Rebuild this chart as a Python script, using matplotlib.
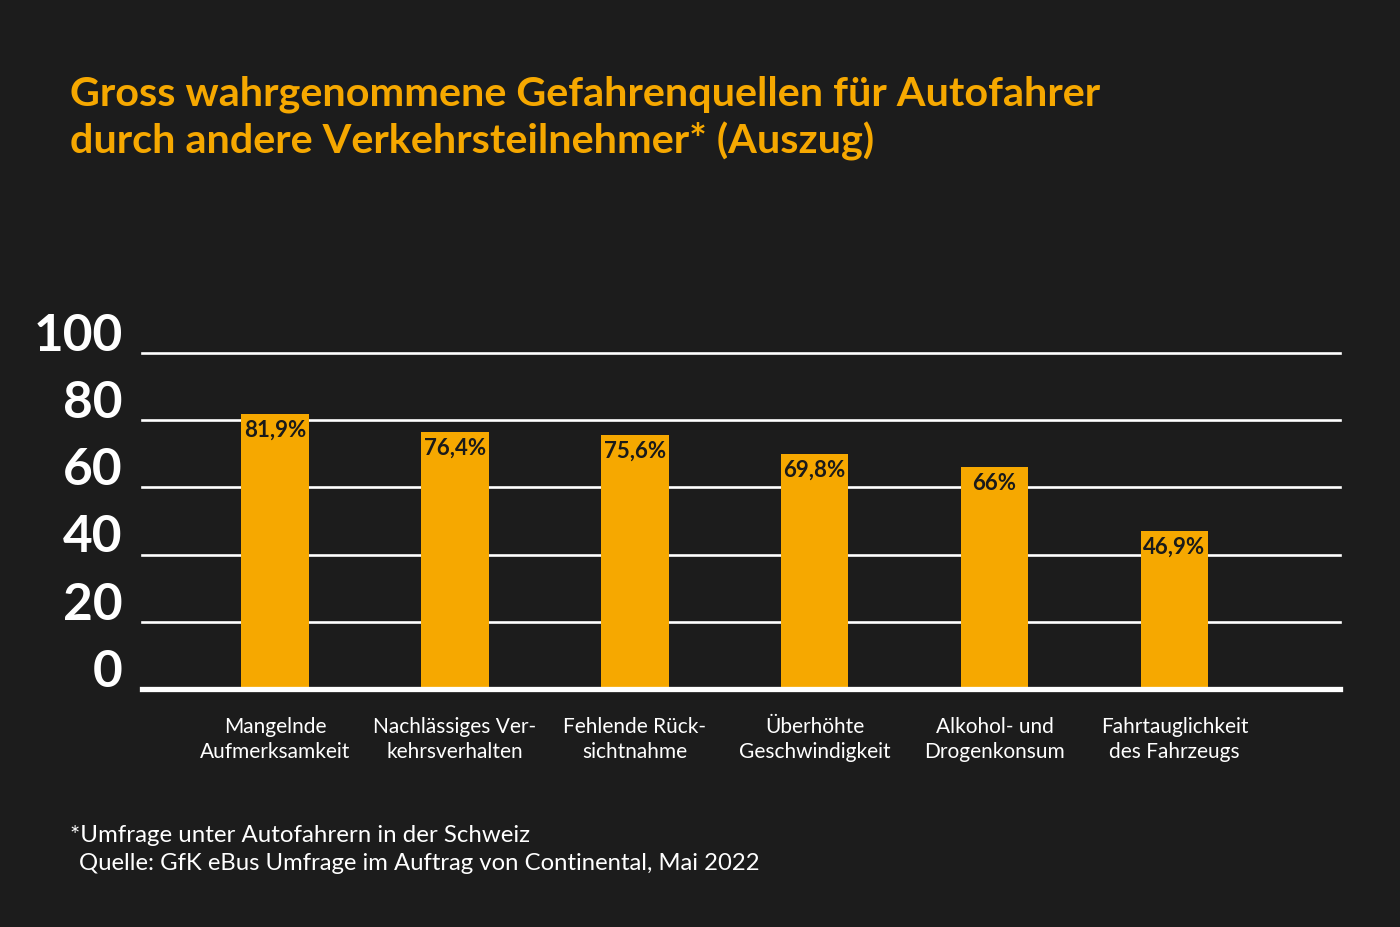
import matplotlib.pyplot as plt
from matplotlib.transforms import offset_copy

# Daten
categories = [
    "Mangelnde\nAufmerksamkeit",
    "Nachlässiges Ver-\nkehrsverhalten",
    "Fehlende Rück-\nsichtnahme",
    "Überhöhte\nGeschwindigkeit",
    "Alkohol- und\nDrogenkonsum",
    "Fahrtauglichkeit\ndes Fahrzeugs",
]
values = [81.9, 76.4, 75.6, 69.8, 66.0, 46.9]
value_labels = ["81,9%", "76,4%", "75,6%", "69,8%", "66%", "46,9%"]
yticks = [0, 20, 40, 60, 80, 100]

title = ("Gross wahrgenommene Gefahrenquellen für Autofahrer\n"
         "durch andere Verkehrsteilnehmer* (Auszug)")
footnote = "*Umfrage unter Autofahrern in der Schweiz"
source = "Quelle: GfK eBus Umfrage im Auftrag von Continental, Mai 2022"

BG = "#1c1c1c"
ORANGE = "#f6a800"
FONT = "Lato"

fig = plt.figure(figsize=(14, 9.27), dpi=100, facecolor=BG)
ax = fig.add_axes([0.1014, 0.2567, 0.8557, 0.3625])
ax.set_facecolor(BG)

x = list(range(len(values)))
ax.bar(x, values, width=0.375, color=ORANGE, zorder=3)

# Gitterlinien + Achsenbeschriftung
lbl_trans = offset_copy(ax.get_yaxis_transform(), fig=fig, x=0, y=12, units="points")
for t in yticks:
    if t == 0:
        ax.axhline(t, color="white", lw=3.8, zorder=4, clip_on=False)
    else:
        ax.axhline(t, color="white", lw=1.9, zorder=1, clip_on=False)
    ax.text(-0.016, t, str(t), transform=lbl_trans, ha="right", va="center",
            color="white", fontsize=37, fontweight="bold", family=FONT, clip_on=False)

# Werte in den Balken
for xi, v, lab in zip(x, values, value_labels):
    ax.annotate(lab, (xi, v), xytext=(0, -4), textcoords="offset points",
                ha="center", va="top", color="#1a1a1a", fontsize=16, fontweight="bold", family=FONT, zorder=5)

# Kategorien
for xi, c in zip(x, categories):
    ax.annotate(c, (xi, 0), xytext=(0, -20), textcoords="offset points",
                ha="center", va="top", color="white", fontsize=15, family=FONT, linespacing=1.35)

ax.set_xlim(-0.74, 5.92)
ax.set_ylim(0, 100)
ax.axis("off")

fig.text(0.05, 0.919, title, color=ORANGE, fontsize=29.8, fontweight="bold", family=FONT,
         ha="left", va="top", linespacing=1.28)
fig.text(0.05, 0.099, footnote, color="white", fontsize=17.3, family=FONT, ha="left", va="center")
fig.text(0.0565, 0.068, source, color="white", fontsize=17.2, family=FONT, ha="left", va="center")

fig.savefig("out.png", dpi=100, facecolor=BG)
